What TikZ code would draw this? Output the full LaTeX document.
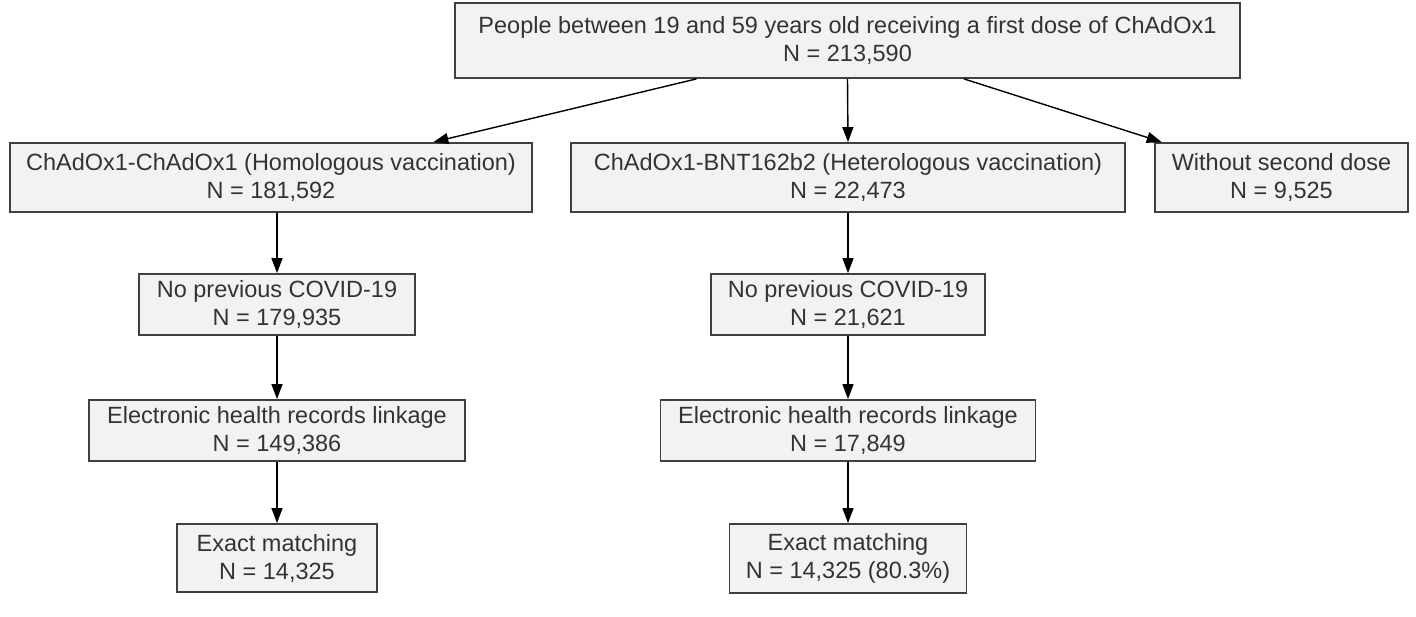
\documentclass[tikz,border=0pt]{standalone}
\usepackage{fontspec}
\setmainfont{Liberation Sans}
\usetikzlibrary{arrows.meta,calc}
\definecolor{boxfill}{HTML}{F2F2F2}
\definecolor{boxline}{HTML}{404040}
\definecolor{txt}{HTML}{333333}
\tikzset{
  flowbox/.style={draw=boxline,line width=1.8pt,fill=boxfill,inner sep=0pt,align=center,
    text=txt,font=\fontsize{23.5}{28}\selectfont},
  flowarrow/.style={-{Triangle[length=15pt,width=11pt]},line width=1.4pt,black}
}
\begin{document}
\begin{tikzpicture}[x=1pt,y=-1pt]
\useasboundingbox (0,0) rectangle (1416,617);
% top
\node[flowbox,minimum width=785pt,minimum height=75pt] (top) at (847.5,40.5)
  {People between 19 and 59 years old receiving a first dose of ChAdOx1\\N = 213,590};
% row 2
\node[flowbox,minimum width=522pt,minimum height=69pt] (homo) at (271,177.5)
  {ChAdOx1-ChAdOx1 (Homologous vaccination)\\N = 181,592};
\node[flowbox,minimum width=554pt,minimum height=69pt] (hetero) at (848,177.5)
  {ChAdOx1-BNT162b2 (Heterologous vaccination)\\N = 22,473};
\node[flowbox,minimum width=253pt,minimum height=69pt] (nosec) at (1281.5,177.5)
  {Without second dose\\N = 9,525};
% row 3
\node[flowbox,minimum width=276pt,minimum height=61pt] (nocov1) at (277,304.5)
  {No previous COVID-19\\N = 179,935};
\node[flowbox,minimum width=274pt,minimum height=61pt] (nocov2) at (848,304.5)
  {No previous COVID-19\\N = 21,621};
% row 4
\node[flowbox,minimum width=376pt,minimum height=61pt] (ehr1) at (277,430.5)
  {Electronic health records linkage\\N = 149,386};
\node[flowbox,minimum width=375pt,minimum height=61pt] (ehr2) at (848,430.5)
  {Electronic health records linkage\\N = 17,849};
% row 5
\node[flowbox,minimum width=200pt,minimum height=68pt] (match1) at (277,558)
  {Exact matching\\N = 14,325};
\node[flowbox,minimum width=237pt,minimum height=69pt] (match2) at (848,558.5)
  {Exact matching\\N = 14,325 (80.3\%)};
% arrows
\draw[flowarrow] ($(top.south west)!0.308!(top.south east)$) -- ($(homo.north west)!0.81!(homo.north east)$);
\draw[flowarrow] (top.south) -- (hetero.north);
\draw[flowarrow] ($(top.south west)!0.648!(top.south east)$) -- ($(nosec.north west)!0.03!(nosec.north east)$);
\draw[flowarrow] (homo.south -| nocov1.north) -- (nocov1.north);
\draw[flowarrow] (nocov1.south) -- (ehr1.north);
\draw[flowarrow] (ehr1.south) -- (match1.north);
\draw[flowarrow] (hetero.south) -- (nocov2.north);
\draw[flowarrow] (nocov2.south) -- (ehr2.north);
\draw[flowarrow] (ehr2.south) -- (match2.north);
\end{tikzpicture}
\end{document}
